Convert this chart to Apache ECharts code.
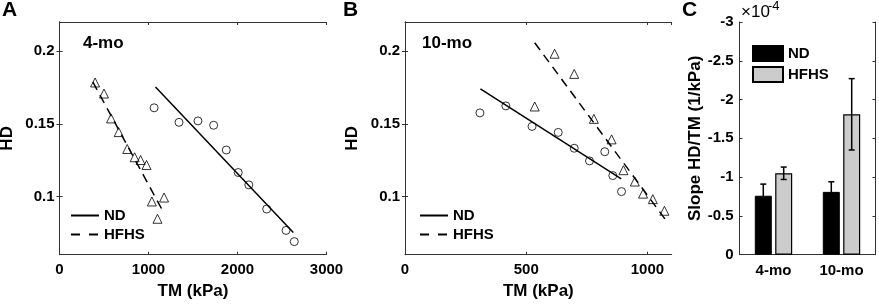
<!DOCTYPE html>
<html>
<head>
<meta charset="utf-8">
<script src="https://cdn.jsdelivr.net/npm/echarts@6/dist/echarts.min.js"></script>
<style>
  html, body { margin: 0; padding: 0; background: #fff; }
  #chart { width: 879px; height: 308px; }
</style>
</head>
<body>
<div id="chart"></div>
<script>
// panel A (4-mo)
const aNdX = [1063, 1343, 1556, 1732, 1874, 2008, 2127, 2328, 2545, 2638];
const aNdY = [0.161, 0.151, 0.152, 0.149, 0.132, 0.1165, 0.108, 0.0914, 0.0767, 0.069];
const aHfX = [400, 500, 579, 665, 761, 844, 911, 978, 1038, 1175, 1101];
const aHfY = [0.1784, 0.1708, 0.1537, 0.1443, 0.1327, 0.127, 0.1251, 0.1217, 0.0966, 0.0993, 0.0847];
const aNdFitX = [1079, 2627];
const aNdFitY = [0.1753, 0.0753];
const aHfFitX = [374, 1164];
const aHfFitY = [0.1788, 0.0897];

// panel B (10-mo)
const bNdX = [309, 416, 524, 632, 698, 761, 824, 857, 893];
const bNdY = [0.1575, 0.1623, 0.1482, 0.1441, 0.1332, 0.1245, 0.1308, 0.1144, 0.1034];
const bHfX = [617, 698, 535, 779, 852, 901, 948, 982, 1022, 1070];
const bHfY = [0.1982, 0.1843, 0.1619, 0.1534, 0.1393, 0.1181, 0.1103, 0.102, 0.0982, 0.0902];
const bNdFitX = [311, 892];
const bNdFitY = [0.174, 0.1121];
const bHfFitX = [535, 1073];
const bHfFitY = [0.2057, 0.0844];

// panel C (slopes, x1e-4)
const groups = ['4-mo', '10-mo'];
const ndSlope = [-0.76, -0.81];
const ndErr = [0.15, 0.13];
const hfSlope = [-1.05, -1.81];
const hfErr = [0.08, 0.46];

const hdTicks = [0.1, 0.15, 0.2];

const FONT = '"Liberation Sans", Arial, sans-serif';
const AX = '#333';
const zip = (xs, ys) => xs.map((x, i) => [x, ys[i]]);

const chart = echarts.init(document.getElementById('chart'));

const BAR_W = 17, BAR_GAP = 3.4;

function errRender(offset) {
  return function (params, api) {
    const i = api.value(0), m = api.value(1), e = api.value(2);
    const hi = api.coord([i, m - e]);
    const lo = api.coord([i, m + e]);
    const x = hi[0] + offset;
    const st = { stroke: '#000', lineWidth: 1.5 };
    return {
      type: 'group',
      children: [
        { type: 'line', shape: { x1: x, y1: hi[1], x2: x, y2: lo[1] }, style: st },
        { type: 'line', shape: { x1: x - 3, y1: hi[1], x2: x + 3, y2: hi[1] }, style: st },
        { type: 'line', shape: { x1: x - 3, y1: lo[1], x2: x + 3, y2: lo[1] }, style: st }
      ]
    };
  };
}

const tickLabel = { color: '#000', fontSize: 15, fontWeight: 'bold', fontFamily: FONT };

function valueX(idx, max, interval, hideMax) {
  return {
    type: 'value', gridIndex: idx, min: 0, max: max, interval: interval,
    axisLine: { lineStyle: { color: AX, width: 1 } },
    axisTick: { inside: true, length: 3, lineStyle: { color: AX } },
    axisLabel: Object.assign({ margin: 8, showMaxLabel: !hideMax, formatter: v => String(v) }, tickLabel),
    splitLine: { show: false },
    name: 'TM (kPa)', nameLocation: 'middle', nameGap: 27,
    nameTextStyle: { color: '#000', fontSize: 17, fontWeight: 'bold', fontFamily: FONT }
  };
}
function mirrorX(idx, max, interval) {
  return {
    type: 'value', gridIndex: idx, position: 'top', min: 0, max: max, interval: interval,
    axisLine: { lineStyle: { color: AX, width: 1 } },
    axisTick: { inside: true, length: 3, lineStyle: { color: AX } },
    axisLabel: { show: false }, splitLine: { show: false }
  };
}
function hdY(idx) {
  return {
    type: 'value', gridIndex: idx, min: 0.06, max: 0.22,
    axisLine: { show: true, lineStyle: { color: AX, width: 1 } },
    axisTick: { show: true, inside: true, length: 3, customValues: hdTicks, lineStyle: { color: AX } },
    axisLabel: Object.assign({ margin: 5, customValues: hdTicks }, tickLabel),
    splitLine: { show: false },
    name: 'HD', nameLocation: 'middle', nameGap: 44, nameRotate: 90,
    nameTextStyle: { color: '#000', fontSize: 17, fontWeight: 'bold', fontFamily: FONT }
  };
}
function mirrorY(idx) {
  return {
    type: 'value', gridIndex: idx, position: 'right', min: 0.06, max: 0.22,
    axisLine: { show: true, lineStyle: { color: AX, width: 1 } },
    axisTick: { show: true, inside: true, length: 3, customValues: hdTicks, lineStyle: { color: AX } },
    axisLabel: { show: false }, splitLine: { show: false }
  };
}

const circle = { symbol: 'circle', symbolSize: 8, itemStyle: { color: 'rgba(0,0,0,0)', borderColor: '#000', borderWidth: 1 } };
const tri = { symbol: 'triangle', symbolSize: 9, itemStyle: { color: 'rgba(0,0,0,0)', borderColor: '#000', borderWidth: 1 } };
const solid = { type: 'line', symbol: 'none', lineStyle: { color: '#000', width: 1.5, type: 'solid' }, itemStyle: { color: '#000' } };
const dashed = { type: 'line', symbol: 'none', lineStyle: { color: '#000', width: 1.5, type: [9, 6] }, itemStyle: { color: '#000' } };

const legendText = { color: '#000', fontSize: 15, fontWeight: 'bold', fontFamily: FONT };
const lineLegend = left => ({
  orient: 'vertical', left: left, top: 208, itemWidth: 28, itemHeight: 14, itemGap: 4, padding: 0,
  itemStyle: { opacity: 0 },
  data: ['ND', { name: 'HFHS', lineStyle: { type: [9, 9] } }],
  textStyle: legendText
});

chart.setOption({
  animation: false,
  backgroundColor: '#fff',
  title: [
    { text: 'A', left: 2, top: 0, padding: 0, textStyle: { fontSize: 21, fontWeight: 'bold', fontFamily: FONT, color: '#000' } },
    { text: 'B', left: 343, top: 0, padding: 0, textStyle: { fontSize: 21, fontWeight: 'bold', fontFamily: FONT, color: '#000' } },
    { text: 'C', left: 682, top: 0, padding: 0, textStyle: { fontSize: 21, fontWeight: 'bold', fontFamily: FONT, color: '#000' } }
  ],
  grid: [
    { left: 59.5, top: 22, width: 267, height: 232.7, outerBoundsMode: 'none' },
    { left: 405, top: 22, width: 266.7, height: 232.7, outerBoundsMode: 'none' },
    { left: 739.5, top: 22, width: 136, height: 232.7, outerBoundsMode: 'none' }
  ],
  legend: [
    lineLegend(70),
    lineLegend(419),
    { orient: 'vertical', left: 752, top: 45, itemWidth: 30, itemHeight: 15, itemGap: 4, padding: 0,
      data: [{ name: 'ND bars', icon: 'rect' }, { name: 'HFHS bars', icon: 'rect' }],
      formatter: n => n.replace(' bars', ''), textStyle: legendText }
  ],
  xAxis: [
    valueX(0, 3000, 1000, false),
    valueX(1, 1100, 500, true),
    {
      type: 'category', gridIndex: 2, data: groups,
      axisLine: { lineStyle: { color: AX, width: 1 } },
      axisTick: { inside: true, length: 3, alignWithLabel: true, lineStyle: { color: AX } },
      axisLabel: Object.assign({ margin: 9 }, tickLabel)
    },
    mirrorX(0, 3000, 1000),
    mirrorX(1, 1100, 500),
    {
      type: 'category', gridIndex: 2, data: groups, position: 'top',
      axisLine: { lineStyle: { color: AX, width: 1 } },
      axisTick: { inside: true, length: 3, alignWithLabel: true, lineStyle: { color: AX } },
      axisLabel: { show: false }
    }
  ],
  yAxis: [
    hdY(0),
    hdY(1),
    {
      type: 'value', gridIndex: 2, min: -3, max: 0, interval: 0.5, inverse: true,
      axisLine: { show: true, lineStyle: { color: AX, width: 1 } },
      axisTick: { show: true, inside: true, length: 3, lineStyle: { color: AX } },
      axisLabel: Object.assign({ margin: 6 }, tickLabel),
      splitLine: { show: false },
      name: 'Slope HD/TM (1/kPa)', nameLocation: 'middle', nameGap: 36, nameRotate: 90,
      nameTextStyle: { color: '#000', fontSize: 17, fontWeight: 'bold', fontFamily: FONT }
    },
    mirrorY(0),
    mirrorY(1),
    {
      type: 'value', gridIndex: 2, position: 'right', min: -3, max: 0, interval: 0.5, inverse: true,
      axisLine: { show: true, lineStyle: { color: AX, width: 1 } },
      axisTick: { show: true, inside: true, length: 3, lineStyle: { color: AX } },
      axisLabel: { show: false }, splitLine: { show: false }
    }
  ],
  graphic: [
    { type: 'text', left: 83, top: 35, style: { text: '4-mo', fontSize: 17, fontWeight: 'bold', fontFamily: FONT, fill: '#000' } },
    { type: 'text', left: 422, top: 35, style: { text: '10-mo', fontSize: 17, fontWeight: 'bold', fontFamily: FONT, fill: '#000' } },
    { type: 'text', left: 741, top: 4, style: { text: '×10', fontSize: 17, fontFamily: FONT, fill: '#000' } },
    { type: 'text', left: 768, top: 0, style: { text: '-4', fontSize: 13, fontFamily: FONT, fill: '#000' } }
  ],
  series: [
    Object.assign({ name: 'ND', xAxisIndex: 0, yAxisIndex: 0, data: zip(aNdFitX, aNdFitY) }, solid),
    Object.assign({ name: 'HFHS', xAxisIndex: 0, yAxisIndex: 0, data: zip(aHfFitX, aHfFitY) }, dashed),
    Object.assign({ type: 'scatter', name: 'ND pts A', xAxisIndex: 0, yAxisIndex: 0, data: zip(aNdX, aNdY) }, circle),
    Object.assign({ type: 'scatter', name: 'HFHS pts A', xAxisIndex: 0, yAxisIndex: 0, data: zip(aHfX, aHfY) }, tri),

    Object.assign({ name: 'ND', xAxisIndex: 1, yAxisIndex: 1, data: zip(bNdFitX, bNdFitY) }, solid),
    Object.assign({ name: 'HFHS', xAxisIndex: 1, yAxisIndex: 1, data: zip(bHfFitX, bHfFitY) }, dashed),
    Object.assign({ type: 'scatter', name: 'ND pts B', xAxisIndex: 1, yAxisIndex: 1, data: zip(bNdX, bNdY) }, circle),
    Object.assign({ type: 'scatter', name: 'HFHS pts B', xAxisIndex: 1, yAxisIndex: 1, data: zip(bHfX, bHfY) }, tri),

    { type: 'bar', name: 'ND bars', xAxisIndex: 2, yAxisIndex: 2, data: ndSlope,
      barWidth: BAR_W, barGap: '20%', itemStyle: { color: '#000', borderColor: '#000', borderWidth: 1 } },
    { type: 'bar', name: 'HFHS bars', xAxisIndex: 2, yAxisIndex: 2, data: hfSlope,
      barWidth: BAR_W, barGap: '20%', itemStyle: { color: '#cccccc', borderColor: '#000', borderWidth: 1.2 } },
    { type: 'custom', name: 'ND err', xAxisIndex: 2, yAxisIndex: 2, z: 5,
      renderItem: errRender(-(BAR_W + BAR_GAP) / 2), data: groups.map((g, i) => [i, ndSlope[i], ndErr[i]]) },
    { type: 'custom', name: 'HFHS err', xAxisIndex: 2, yAxisIndex: 2, z: 5,
      renderItem: errRender((BAR_W + BAR_GAP) / 2), data: groups.map((g, i) => [i, hfSlope[i], hfErr[i]]) }
  ]
});
</script>
</body>
</html>
